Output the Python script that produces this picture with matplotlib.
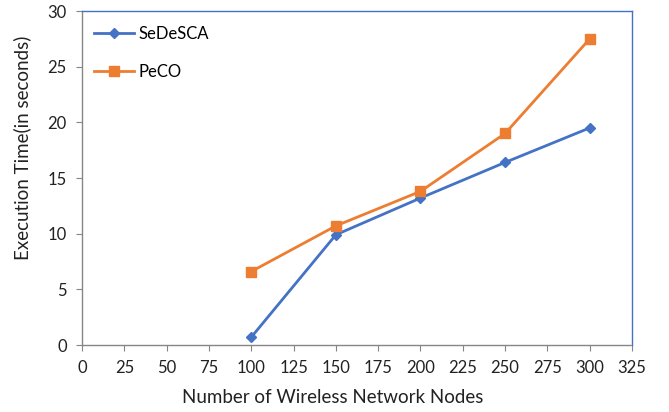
import matplotlib
matplotlib.use("Agg")
import matplotlib.pyplot as plt

nodes = [100, 150, 200, 250, 300]
sedesca = [0.7, 9.9, 13.2, 16.4, 19.5]
peco = [6.6, 10.7, 13.8, 19.0, 27.5]

x_ticks = list(range(0, 326, 25))
y_ticks = list(range(0, 31, 5))

plt.rcParams['font.family'] = ['Lato', 'DejaVu Sans']

fig = plt.figure(figsize=(6.69, 4.12), dpi=100)
ax = fig.add_axes([0.1226, 0.1626, 0.8221, 0.8107])

ax.plot(nodes, sedesca, color='#4472C4', lw=2, marker='D', ms=5.5, label='SeDeSCA')
ax.plot(nodes, peco, color='#ED7D31', lw=2, marker='s', ms=7, label='PeCO')

ax.set_xlim(0, 325)
ax.set_ylim(0, 30)
ax.set_xticks(x_ticks)
ax.set_yticks(y_ticks)
ax.tick_params(direction='out', length=4, width=0.8, color='#868686',
               labelsize=12, labelcolor='#222222', pad=7)

for side in ['left', 'bottom']:
    ax.spines[side].set_color('#868686')
    ax.spines[side].set_linestyle((0, (1, 1)))
    ax.spines[side].set_linewidth(1)
for side in ['top', 'right']:
    ax.spines[side].set_color('#4472C4')
    ax.spines[side].set_linewidth(1)

ax.set_xlabel('Number of Wireless Network Nodes', fontsize=13.5, color='#222222')
ax.set_ylabel('Execution Time(in seconds)', fontsize=13.5, color='#222222')
ax.xaxis.set_label_coords(0.456, -0.132)
ax.yaxis.set_label_coords(-0.092, 0.59)

ax.legend(loc='upper left', frameon=False, fontsize=12, labelspacing=1.3,
          handlelength=2.4, handletextpad=0.3, borderaxespad=0.3,
          bbox_to_anchor=(0.0, 0.99))

fig.savefig('out.png', dpi=100)
